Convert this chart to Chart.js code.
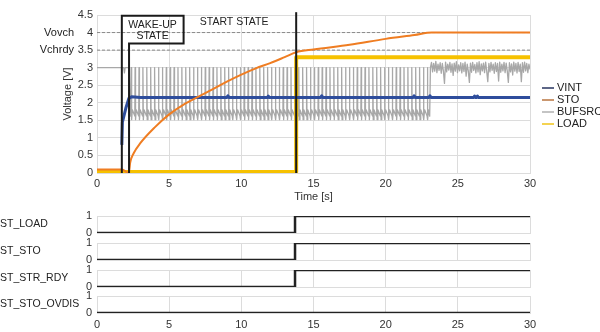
<!DOCTYPE html>
<html>
<head>
<meta charset="utf-8">
<script src="https://cdn.jsdelivr.net/npm/chart.js@4.4.1/dist/chart.umd.min.js"></script>
<style>
  html, body { margin: 0; padding: 0; background: #fff; }
  #wrap { position: relative; width: 600px; height: 332px; overflow: hidden; }
  #wrap canvas { position: absolute; left: 0; }
</style>
</head>
<body>
<div id="wrap">
  <canvas id="chartVolt" width="600" height="205" style="top:0px"></canvas>
</div>
<script>
/* ============================
   Datos
============================ */
const seriesNames = ["VINT", "STO", "BUFSRC", "LOAD"];
const seriesColors = ["#2e4d9c", "#ef7d22", "#a8a8a8", "#f6c100"];
const legendColors = ["#27345f", "#b8743f", "#b0b0b0", "#f0c419"];

const vintT = [1.72, 1.76, 1.85, 2.0, 2.2, 2.4, 3.0, 9.0, 9.07, 9.14, 11.8, 11.87, 11.94, 15.5, 15.57, 15.64,
    21.9, 21.97, 22.04, 23.0, 23.07, 23.14, 26.1, 26.16, 26.22, 26.3, 26.36, 26.42, 30];
const vintV = [0.8, 1.45, 1.6, 1.85, 2.12, 2.17, 2.15, 2.15, 2.2, 2.15, 2.15, 2.19, 2.15, 2.15, 2.2, 2.15,
    2.15, 2.2, 2.15, 2.15, 2.2, 2.15, 2.15, 2.19, 2.15, 2.15, 2.19, 2.15, 2.15];

const stoT = [0, 1.73, 2.2, 2.3, 2.55, 3, 4, 5, 6, 7, 8, 9, 10, 11, 12, 13, 13.8, 15, 17.5, 20, 22, 23.2, 30];
const stoV = [0.1, 0.1, 0.0, 0.3, 0.57, 0.85, 1.3, 1.67, 1.95, 2.17, 2.38, 2.6, 2.8, 2.98, 3.13, 3.3, 3.44,
    3.52, 3.65, 3.82, 3.93, 4.0, 4.0];

const loadT = [0, 13.8, 13.8, 30];
const loadV = [0.03, 0.03, 3.3, 3.3];

// BUFSRC: tramo inicial, pulsos de carga y tramo final con ruido
const bufHeadT = [0, 1.85, 1.9, 1.95, 2.2, 2.3];
const bufHeadV = [3.0, 3.0, 2.85, 3.0, 3.0, 1.62];
const spikeTimes = [2.35, 2.62, 2.89, 3.16, 3.43, 3.70, 3.97, 4.24, 4.51, 4.78, 5.05, 5.32, 5.59, 5.86,
    6.13, 6.40, 6.67, 6.94, 7.21, 7.48, 7.75, 8.02, 8.29, 8.56, 8.83, 9.10, 9.37, 9.64, 9.91, 10.18,
    10.45, 10.72, 10.99, 11.26, 11.53, 11.80, 12.07, 12.34, 12.61, 12.88, 13.15, 13.42, 13.69, 13.96,
    14.23, 14.50, 14.77, 15.04, 15.31, 15.58, 15.85, 16.12, 16.39, 16.66, 16.93, 17.20, 17.47, 17.74,
    18.01, 18.28, 18.55, 18.82, 19.09, 19.36, 19.63, 19.90, 20.17, 20.44, 20.71, 20.98, 21.25, 21.52,
    21.79, 22.06, 22.33, 22.60, 22.87];
const spikeDt = [0, 0.02, 0.05, 0.1];
const spikeV = [1.62, 3.0, 1.52, 1.8];
const noiseStart = 23.1;
const noiseStep = 0.075;
const noiseV = [3.0, 3.15, 2.88, 3.12, 2.9, 3.18, 2.86, 3.1, 2.92, 3.14, 2.84, 3.12, 2.9, 2.55, 3.16, 2.88,
    3.1, 2.93, 3.15, 2.87, 3.11, 2.78, 3.13, 2.9, 3.17, 2.86, 3.08, 2.91, 3.14, 2.85, 3.12, 2.89, 3.16,
    2.76, 3.1, 2.9, 2.58, 3.13, 2.87, 3.15, 2.92, 3.09, 2.85, 3.14, 2.88, 3.17, 2.8, 3.11, 2.91, 3.13,
    2.86, 3.16, 2.9, 2.6, 3.12, 2.88, 3.15, 2.92, 3.1, 2.84, 3.14, 2.89, 3.12, 2.62, 3.16, 2.87, 3.1,
    2.91, 3.15, 2.86, 3.13, 2.9, 2.58, 3.14, 2.88, 3.11, 2.79, 3.16, 2.9, 3.12, 2.85, 3.15, 2.89, 3.1,
    2.6, 3.14, 2.87, 3.16, 2.91, 3.12, 2.86, 3.1, 2.95];

// Niveles de referencia
const levelNames = ["Vovch", "Vchrdy"];
const levelValues = [4, 3.5];

// Marcas de estado (líneas negras)
const wakeBoxT = [1.72, 1.72, 6.0, 6.0, 2.22, 2.22];
const wakeBoxV = [0, 4.48, 4.48, 3.69, 3.69, 0];
const startLineT = [13.8, 13.8];
const startLineV = [0, 4.58];

// Señales digitales
const statusNames = ["ST_LOAD", "ST_STO", "ST_STR_RDY", "ST_STO_OVDIS"];
const statusT = [0, 13.72, 13.72, 30];
const statusValues = [
    [0, 0, 1, 1],
    [0, 0, 1, 1],
    [0, 0, 1, 1],
    [0, 0, 0, 0],
];

const timeTicks = { min: 0, max: 30, step: 5 };
const voltTicks = { min: 0, max: 4.5, step: 0.5 };

/* ============================
   Utils
============================ */
const FONT = "'Liberation Sans', Arial, sans-serif";
Chart.defaults.font.family = FONT;
Chart.defaults.font.size = 11;
Chart.defaults.color = "#333";

const zip = (xs, ys) => xs.map((x, i) => ({ x, y: ys[i] }));
const GRID = "#dcdcdc";

function bufsrcPoints() {
    const pts = zip(bufHeadT, bufHeadV);
    spikeTimes.forEach((t) => spikeDt.forEach((d, j) => pts.push({ x: t + d, y: spikeV[j] })));
    pts.push({ x: 23.05, y: 1.62 });
    noiseV.forEach((v, i) => pts.push({ x: noiseStart + i * noiseStep, y: v }));
    return pts;
}

function lineDs(data, color, width, extra = {}) {
    return {
        data, borderColor: color, borderWidth: width, pointRadius: 0, fill: false, tension: 0,
        borderJoinStyle: "round", ...extra
    };
}

// ancho fijo del eje Y y sin relleno extra por las etiquetas
const fixY = (s) => { s.width = 97; s.paddingTop = 0; s.paddingBottom = 0; };

/* ============================
   Gráfica principal
============================ */
const voltLabels = {
    id: "voltLabels",
    afterDraw(chart) {
        const { ctx, scales: { x, y } } = chart;
        ctx.save();
        ctx.font = "11px " + FONT;
        ctx.fillStyle = "#222";
        ctx.textBaseline = "middle";
        ctx.textAlign = "right";
        levelNames.forEach((n, i) => ctx.fillText(n, 74, y.getPixelForValue(levelValues[i])));
        ctx.textAlign = "center";
        ctx.font = "10.5px " + FONT;
        ctx.fillText("WAKE-UP", x.getPixelForValue(3.85), 25);
        ctx.fillText("STATE", x.getPixelForValue(3.85), 36);
        ctx.fillText("START STATE", x.getPixelForValue(9.5), 22);
        // leyenda
        ctx.font = "11px " + FONT;
        ctx.textAlign = "left";
        seriesNames.forEach((n, i) => {
            const yy = 88 + i * 12;
            ctx.strokeStyle = legendColors[i];
            ctx.lineWidth = 1.5;
            ctx.beginPath();
            ctx.moveTo(542, yy);
            ctx.lineTo(554, yy);
            ctx.stroke();
            ctx.fillText(n, 557, yy);
        });
        ctx.restore();
    }
};

new Chart(document.getElementById("chartVolt"), {
    type: "line",
    data: {
        datasets: [
            lineDs(zip(wakeBoxT, wakeBoxV), "#1a1a1a", 2, { clip: false, borderJoinStyle: "miter" }),
            lineDs(zip(startLineT, startLineV), "#1a1a1a", 2, { clip: false }),
            lineDs(zip(stoT, stoV), seriesColors[1], 2, { cubicInterpolationMode: "monotone" }),
            lineDs(zip(vintT, vintV), seriesColors[0], 3),
            lineDs(zip(loadT, loadV), seriesColors[3], 4),
            lineDs(bufsrcPoints(), seriesColors[2], 1.3),
            ...levelValues.map((v) => lineDs([{ x: timeTicks.min, y: v }, { x: timeTicks.max, y: v }], "#8a8a8a", 1, { borderDash: [3, 2] })),
        ]
    },
    options: {
        responsive: false,
        animation: false,
        events: [],
        layout: { padding: { top: 15, right: 70, left: 0, bottom: 0 } },
        plugins: { legend: { display: false }, tooltip: { enabled: false } },
        scales: {
            x: {
                type: "linear", min: timeTicks.min, max: timeTicks.max,
                ticks: { stepSize: timeTicks.step, padding: 4, maxRotation: 0 },
                grid: { color: GRID, drawTicks: false },
                border: { color: GRID },
                title: { display: true, text: "Time [s]", padding: { top: 0, bottom: 1 } },
                afterFit: (s) => { s.height = 32; }
            },
            y: {
                min: voltTicks.min, max: voltTicks.max,
                ticks: { stepSize: voltTicks.step, padding: 4, callback: (v) => String(v) },
                grid: { color: GRID, drawTicks: false },
                border: { color: GRID },
                title: { display: true, text: "Voltage [V]", padding: { top: 61, bottom: 0 } },
                afterFit: fixY
            }
        }
    },
    plugins: [voltLabels]
});

/* ============================
   Señales digitales
============================ */
const panelTops = [216, 243, 270, 296];
const PANEL_H = 17;

const panelName = {
    id: "panelName",
    afterDraw(chart) {
        const { ctx, chartArea } = chart;
        ctx.save();
        ctx.font = "10.5px " + FONT;
        ctx.fillStyle = "#222";
        ctx.textBaseline = "middle";
        ctx.textAlign = "left";
        ctx.fillText(chart.options.plugins.panelName.text, 0, (chartArea.top + chartArea.bottom) / 2);
        ctx.restore();
    }
};

function panelFactory(idx) {
    const last = idx === statusNames.length - 1;
    const bottomH = last ? 20 : 3;
    const canvas = document.createElement("canvas");
    canvas.width = 600;
    canvas.height = 8 + PANEL_H + bottomH;
    canvas.style.top = (panelTops[idx] - 8) + "px";
    document.getElementById("wrap").appendChild(canvas);

    new Chart(canvas, {
        type: "line",
        data: { datasets: [lineDs(zip(statusT, statusValues[idx]), "#222", 2.5, { borderJoinStyle: "miter" })] },
        options: {
            responsive: false,
            animation: false,
            events: [],
            layout: { padding: { top: 8, right: 70, left: 0, bottom: 0 } },
            plugins: { legend: { display: false }, tooltip: { enabled: false }, panelName: { text: statusNames[idx] } },
            scales: {
                x: {
                    type: "linear", min: timeTicks.min, max: timeTicks.max,
                    ticks: { display: last, stepSize: timeTicks.step, padding: 5, maxRotation: 0 },
                    grid: { color: GRID, drawTicks: false },
                    border: { color: GRID },
                    afterFit: (s) => { s.height = bottomH; }
                },
                y: {
                    min: 0, max: 1,
                    ticks: { stepSize: 1, padding: 5, autoSkip: false },
                    grid: { color: GRID, drawTicks: false },
                    border: { color: GRID },
                    afterFit: fixY
                }
            }
        },
        plugins: [panelName]
    });
}

statusNames.forEach((_, i) => panelFactory(i));
</script>
</body>
</html>
